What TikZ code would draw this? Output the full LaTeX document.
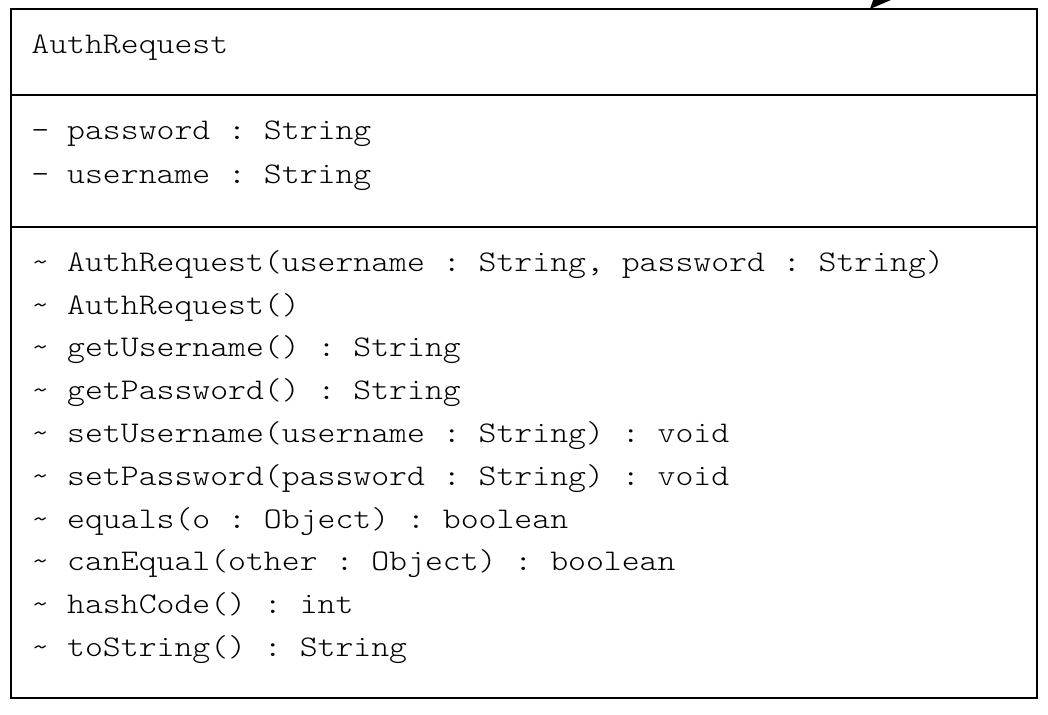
\documentclass[tikz,border=0pt]{standalone}
\usepackage{fontspec}
\usepackage{graphicx}
\setmonofont{Latin Modern Mono Light}
\usetikzlibrary{arrows.meta}
\newcommand{\mtext}[1]{\scalebox{1.136}[1]{#1}}
\begin{document}
\begin{tikzpicture}[x=.5pt,y=-.5pt,
  member/.style={anchor=mid west,inner sep=0pt,font=\ttfamily\fontsize{15}{17}\selectfont},
  frame/.style={line width=1pt}]
\useasboundingbox (0,0) rectangle (1048,714);
\clip (0,0) rectangle (1048,714);
\draw[frame] (11,9) rectangle (1037,698);
\draw[frame] (11,95)--(1037,95) (11,227)--(1037,227);
\node[member] (title) at (31,49) {\mtext{AuthRequest}};
\node[member] (attrPassword) at (31,135) {\mtext{- password : String}};
\node[member] (attrUsername) at (31,179) {\mtext{- username : String}};
\foreach \m [count=\i from 0] in {
  {AuthRequest(username : String, password : String)},
  {AuthRequest()},
  {getUsername() : String},
  {getPassword() : String},
  {setUsername(username : String) : void},
  {setPassword(password : String) : void},
  {equals(o : Object) : boolean},
  {canEqual(other : Object) : boolean},
  {hashCode() : int},
  {toString() : String}}
  \node[member] (op\i) at (31,267+42.8*\i) {\mtext{\textasciitilde{} \m}};
\coordinate (assocStart) at (934,-60);
\coordinate (assocEnd) at (870,9);
\draw[frame,-{Triangle[length=15pt,width=13pt]}] (assocStart)--(assocEnd);
\end{tikzpicture}
\end{document}
